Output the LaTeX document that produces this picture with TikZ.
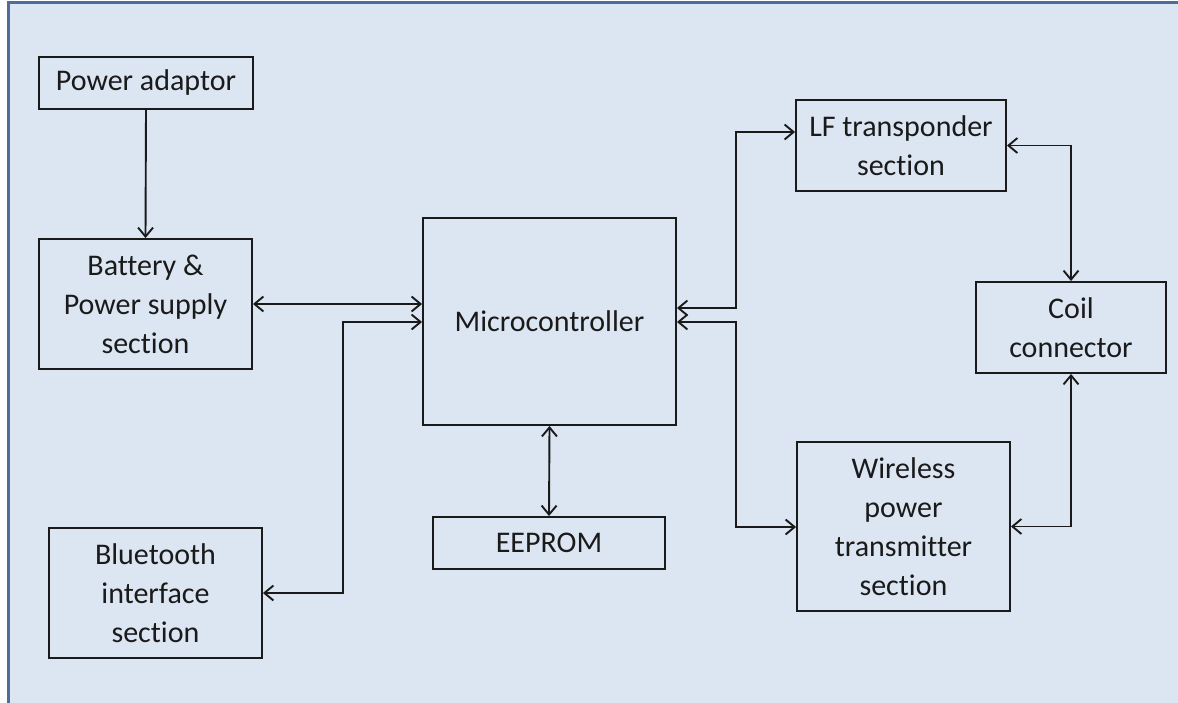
\documentclass[tikz,border=0pt]{standalone}
\usepackage{fontspec}
\setmainfont{Carlito}[RawFeature={-liga;-clig;-calt}]
\usetikzlibrary{arrows.meta}
\definecolor{panel}{HTML}{DCE6F2}
\definecolor{frame}{HTML}{4F6D9B}
\definecolor{ink}{HTML}{1A1A1A}
\tikzset{
  block/.style={draw=ink, line width=1.9pt, align=center, inner sep=0pt,
                text=ink, font=\fontsize{30}{39}\selectfont},
  link/.style={draw=ink, line width=1.9pt, {Straight Barb[length=9pt,width=15pt]}-{Straight Barb[length=9pt,width=15pt]}},
  feed/.style={draw=ink, line width=1.9pt, -{Straight Barb[length=9pt,width=15pt]}}
}
\begin{document}
\begin{tikzpicture}[x=1pt, y=-1pt]
      \useasboundingbox (0,0) rectangle (1178,703);
      % fond et cadre
      \fill[white] (0,0) rectangle (8,703);
      \fill[white] (0,0) rectangle (1178,3);
      \fill[panel] (8,3) rectangle (1178,703);
      \draw[frame, line width=3pt] (8,703) -- (8,3) -- (1178,3);
      % blocs
      \node[block, minimum width=214pt, minimum height=52pt]  (pwr)  at (146,83)    {Power adaptor};
      \node[block, minimum width=213pt, minimum height=130pt] (bat)  at (145.5,304) {Battery \&\\Power supply\\section};
      \node[block, minimum width=213pt, minimum height=130pt] (bt)   at (155.5,593) {Bluetooth\\interface\\section};
      \node[block, minimum width=253pt, minimum height=207pt] (mcu)  at (549.5,321.5) {Microcontroller};
      \node[block, minimum width=232pt, minimum height=52pt]  (eep)  at (549,543)   {EEPROM};
      \node[block, minimum width=210pt, minimum height=91pt]  (lf)   at (901,145.5) {LF transponder\\section};
      \node[block, minimum width=190pt, minimum height=91pt]  (coil) at (1071,327.5) {Coil\\connector};
      \node[block, minimum width=213pt, minimum height=169pt] (wpt)  at (903.5,526.5) {Wireless\\power\\transmitter\\section};
      % points de coude
      \coordinate (jl)  at (343,322);
      \coordinate (jr1) at (736,308);
      \coordinate (jr2) at (736,322);
      \coordinate (jlf) at (736,132);
      \coordinate (jw)  at (736,527);
      % liaisons
      \draw[feed] (pwr.south) -- (bat.north);
      \draw[link] (bat.east) -- (bat.east -| mcu.west);
      \draw[link] (jl -| mcu.west) -- (jl) |- (bt.east);
      \draw[link] (mcu.south) -- (eep.north);
      \draw[link] (jr1 -| mcu.east) -- (jr1) -- (jlf) -- (jlf -| lf.west);
      \draw[link] (jr2 -| mcu.east) -- (jr2) -- (jw) -- (jw -| wpt.west);
      \draw[link] (lf.east) -| (coil.north);
      \draw[link] (coil.south) |- (wpt.east);
\end{tikzpicture}
\end{document}
